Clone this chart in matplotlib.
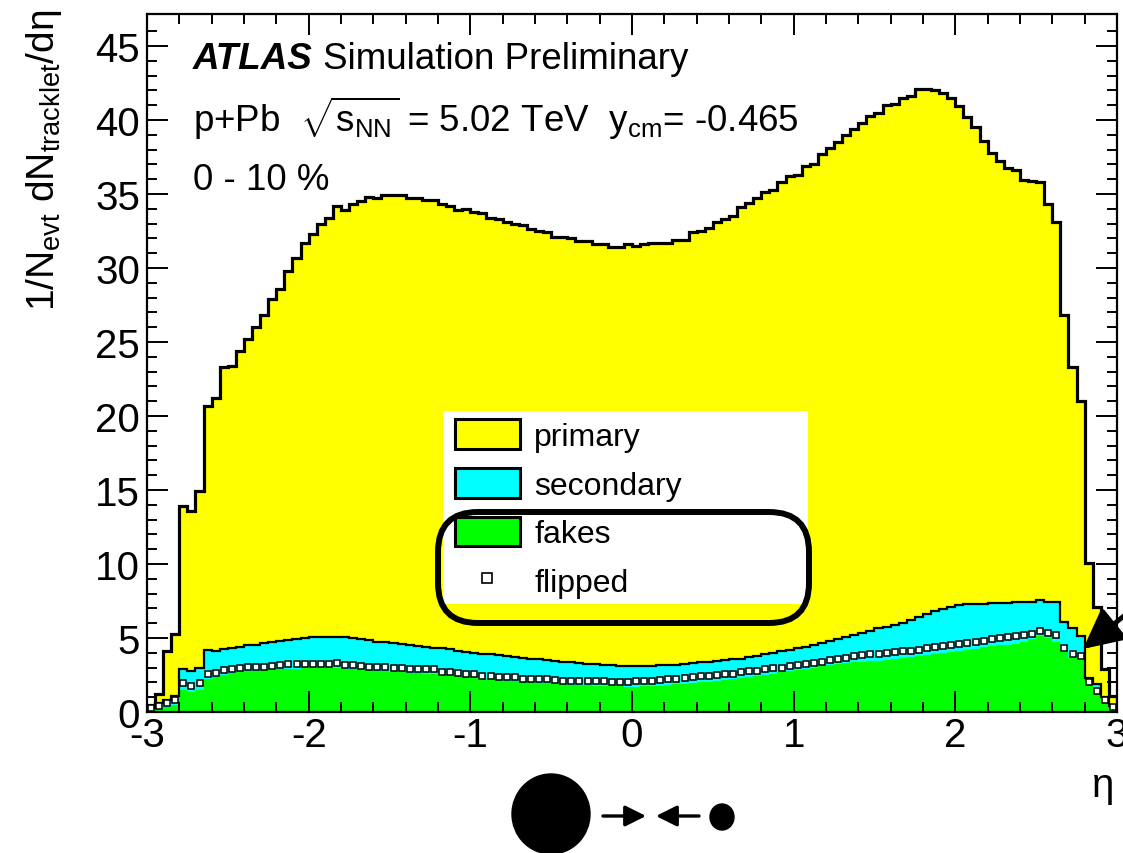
import numpy as np
import matplotlib.pyplot as plt
from matplotlib.patches import Patch, Rectangle, FancyBboxPatch, Ellipse
from matplotlib.lines import Line2D

plt.rcParams['font.family'] = ['Liberation Sans', 'DejaVu Sans']
plt.rcParams['mathtext.fontset'] = 'custom'
plt.rcParams['mathtext.rm'] = 'Liberation Sans'
plt.rcParams['mathtext.it'] = 'Liberation Sans:italic'
plt.rcParams['mathtext.bf'] = 'Liberation Sans:bold'
plt.rcParams['axes.unicode_minus'] = False

# 120 bins in eta from -3 to 3
eta_edges = np.linspace(-3, 3, 121)

# top of the stack: primary + secondary + fakes
total = [
    0.5, 1.2, 4.1, 5.3, 13.95, 13.6, 14.95, 20.7, 21.2, 23.3,
    23.4, 24.4, 25.2, 26.0, 26.8, 27.9, 28.6, 29.8, 30.7, 31.7,
    32.3, 33.0, 33.4, 34.2, 33.9, 34.3, 34.5, 34.8, 34.7, 34.9,
    34.9, 34.9, 34.7, 34.7, 34.6, 34.6, 34.3, 34.2, 33.9, 34.0,
    33.8, 33.7, 33.4, 33.3, 33.1, 33.0, 32.9, 32.6, 32.5, 32.4,
    32.1, 32.1, 32.0, 31.8, 31.8, 31.6, 31.6, 31.4, 31.4, 31.6,
    31.5, 31.6, 31.7, 31.7, 31.7, 31.9, 31.9, 32.4, 32.5, 32.7,
    33.1, 33.3, 33.5, 34.1, 34.4, 34.7, 35.1, 35.3, 35.8, 36.2,
    36.3, 36.9, 37.0, 37.7, 38.1, 38.5, 39.0, 39.4, 39.8, 40.25,
    40.5, 41.0, 41.1, 41.5, 41.65, 42.1, 42.1, 42.05, 41.85, 41.5,
    40.95, 40.2, 39.5, 38.55, 37.75, 37.2, 36.75, 36.6, 35.95, 35.85,
    35.8, 34.3, 33.1, 26.8, 23.3, 21.0, 10.1, 7.1, 2.9, 1.1,
]

# secondary + fakes
with_secondary = [
    0.3, 0.6, 0.8, 1.1, 2.9, 2.75, 2.95, 4.2, 4.1, 4.25,
    4.3, 4.4, 4.5, 4.55, 4.65, 4.75, 4.8, 4.85, 4.95, 5.0,
    5.05, 5.1, 5.05, 5.1, 5.05, 5.0, 4.9, 4.85, 4.75, 4.7,
    4.64, 4.6, 4.5, 4.45, 4.41, 4.35, 4.3, 4.23, 4.15, 4.05,
    4.0, 3.95, 3.9, 3.85, 3.75, 3.7, 3.65, 3.6, 3.55, 3.5,
    3.45, 3.4, 3.35, 3.3, 3.25, 3.22, 3.18, 3.15, 3.13, 3.12,
    3.11, 3.12, 3.13, 3.15, 3.18, 3.2, 3.25, 3.3, 3.35, 3.4,
    3.45, 3.5, 3.55, 3.6, 3.7, 3.8, 3.9, 4.0, 4.1, 4.2,
    4.3, 4.4, 4.5, 4.65, 4.8, 4.9, 5.05, 5.2, 5.35, 5.5,
    5.65, 5.75, 5.85, 6.0, 6.2, 6.45, 6.6, 6.8, 6.95, 7.1,
    7.2, 7.3, 7.3, 7.3, 7.35, 7.35, 7.35, 7.4, 7.4, 7.4,
    7.6, 7.4, 7.4, 6.1, 5.7, 5.15, 2.3, 1.9, 1.0, 0.4,
]

fakes = [
    0.1, 0.25, 0.32, 0.47, 1.49, 1.38, 1.5, 2.2, 2.39, 2.5,
    2.61, 2.7, 2.75, 2.8, 2.84, 2.86, 2.88, 2.9, 2.92, 2.95,
    2.95, 2.95, 2.95, 2.98, 2.9, 2.88, 2.85, 2.82, 2.8, 2.75,
    2.7, 2.68, 2.65, 2.62, 2.6, 2.55, 2.5, 2.45, 2.4, 2.35,
    2.3, 2.25, 2.2, 2.16, 2.12, 2.08, 2.04, 2.0, 1.96, 1.94,
    1.9, 1.87, 1.84, 1.82, 1.8, 1.78, 1.76, 1.74, 1.73, 1.72,
    1.72, 1.73, 1.75, 1.78, 1.82, 1.86, 1.9, 1.95, 2.0, 2.05,
    2.1, 2.15, 2.22, 2.3, 2.37, 2.44, 2.52, 2.6, 2.68, 2.76,
    2.84, 2.92, 3.0, 3.08, 3.16, 3.24, 3.3, 3.36, 3.4, 3.45,
    3.45, 3.5, 3.55, 3.62, 3.7, 3.78, 3.85, 3.92, 3.98, 4.05,
    4.12, 4.2, 4.28, 4.36, 4.44, 4.5, 4.56, 4.62, 4.75, 4.9,
    5.15, 5.0, 4.75, 4.05, 3.65, 3.5, 2.1, 1.4, 0.75, 0.3,
]

flipped = [
    0.3, 0.41, 0.59, 0.81, 1.94, 1.76, 1.94, 2.57, 2.66, 2.84,
    2.88, 2.95, 3.02, 3.06, 3.06, 3.11, 3.15, 3.22, 3.22, 3.27,
    3.27, 3.27, 3.25, 3.33, 3.18, 3.15, 3.11, 3.06, 3.04, 3.02,
    2.99, 2.95, 2.88, 2.88, 2.88, 2.88, 2.68, 2.68, 2.61, 2.57,
    2.57, 2.45, 2.43, 2.39, 2.34, 2.34, 2.25, 2.23, 2.2, 2.2,
    2.16, 2.12, 2.1, 2.12, 2.1, 2.09, 2.09, 2.0, 2.0, 2.02,
    2.09, 2.1, 2.12, 2.15, 2.2, 2.25, 2.3, 2.35, 2.4, 2.45,
    2.5, 2.55, 2.6, 2.7, 2.75, 2.8, 2.9, 2.95, 3.0, 3.1,
    3.15, 3.25, 3.3, 3.4, 3.5, 3.55, 3.65, 3.75, 3.85, 3.9,
    3.95, 4.0, 4.05, 4.1, 4.15, 4.22, 4.3, 4.38, 4.45, 4.52,
    4.6, 4.68, 4.75, 4.82, 4.9, 4.97, 5.05, 5.12, 5.2, 5.3,
    5.5, 5.35, 5.2, 4.3, 3.9, 3.8, 2.0, 1.45, 0.8, 0.35,
]

labels = ['primary', 'secondary', 'fakes', 'flipped']
colors = ['#ffff00', '#00ffff', '#00ff00']

W, H = 1123, 854


def fpos(x, y):
    return x / W, 1 - y / H


fig = plt.figure(figsize=(W / 100, H / 100), dpi=100)
ax = fig.add_axes([147 / W, 1 - 713 / H, (1117 - 147) / W, (713 - 15) / H])

ax.stairs(total, eta_edges, baseline=with_secondary, fill=True, color=colors[0], lw=0)
ax.stairs(with_secondary, eta_edges, baseline=fakes, fill=True, color=colors[1], lw=0)
ax.stairs(fakes, eta_edges, baseline=0, fill=True, color=colors[2], lw=0)
ax.stairs(with_secondary, eta_edges, baseline=None, color='black', lw=1.6)
ax.stairs(total, eta_edges, baseline=0, color='black', lw=2.3)

centers = 0.5 * (eta_edges[1:] + eta_edges[:-1])
ax.plot(centers, flipped, ls='none', marker='s', ms=4.8, mfc='white', mec='black', mew=1.1)

ax.set_xlim(-3, 3)
ax.set_ylim(0, 47.16)
ax.set_xticks(np.arange(-3, 4))
ax.set_xticklabels([str(v) for v in range(-3, 4)])
ax.set_xticks(np.arange(-3, 3.01, 0.2), minor=True)
ax.set_yticks(np.arange(0, 46, 5))
ax.set_yticks(np.arange(0, 47, 1), minor=True)
ax.set_axisbelow(False)
ax.tick_params(which='both', direction='in', top=True, right=True, width=1.4, labelsize=29)
ax.tick_params(which='major', length=15)
ax.tick_params(which='minor', length=7.5)
ax.tick_params(axis='x', pad=3)
ax.tick_params(axis='y', pad=5)
for sp in ax.spines.values():
    sp.set_linewidth(1.6)

fig.text(*fpos(44, 10), r'1/N$_{\mathregular{evt}}$ dN$_{\mathregular{tracklet}}$/dη',
         rotation=90, ha='center', va='top', fontsize=28)
fig.text(*fpos(1103, 786), 'η', ha='center', va='center', fontsize=29)

fig.text(*fpos(193, 69), 'ATLAS', fontsize=26.5, fontweight='bold', fontstyle='italic', va='baseline')
fig.text(*fpos(323, 69), 'Simulation Preliminary', fontsize=26.5, va='baseline')
fig.text(*fpos(193, 132),
         r'p+Pb  $\sqrt{\mathregular{s}_{\mathregular{NN}}}$ = 5.02 TeV  y$_{\mathregular{cm}}$= -0.465',
         fontsize=26.5, va='baseline')
fig.text(*fpos(193, 190), '0 - 10 %', fontsize=26.5, va='baseline')

# legend on a white panel drawn above the histograms
ax.add_patch(Rectangle(fpos(443, 605), 365 / W, 193 / H, transform=fig.transFigure,
                       facecolor='white', edgecolor='none', zorder=4, clip_on=False))
handles = [Patch(facecolor=c, edgecolor='black', lw=2.2) for c in colors]
handles.append(Line2D([], [], ls='none', marker='s', ms=7.5, mfc='white', mec='black', mew=1.2))
leg = ax.legend(handles, labels, loc='upper left', bbox_to_anchor=fpos(455, 420),
                bbox_transform=fig.transFigure, frameon=False, fontsize=23,
                handlelength=2.03, handleheight=1.06, handletextpad=0.45,
                labelspacing=0.5, borderpad=0, borderaxespad=0)
leg.set_zorder(6)

# overlay in pixel coordinates for the annotations
ov = fig.add_axes([0, 0, 1, 1], zorder=5)
ov.set_xlim(0, W)
ov.set_ylim(H, 0)
ov.set_facecolor('none')
ov.axis('off')

ov.add_patch(FancyBboxPatch((438, 513), 371, 111, boxstyle='round,pad=0,rounding_size=40',
                            fill=False, edgecolor='black', lw=4.3))
ov.annotate('', xy=(1083, 650), xytext=(1135, 608),
            arrowprops=dict(arrowstyle='-|>,head_length=1.5,head_width=0.75', lw=3.5,
                            color='black', shrinkA=0, shrinkB=0, mutation_scale=16))

# beam sketch: Pb nucleus and proton
ov.add_patch(Ellipse((551, 815), 78, 80, color='black'))
ov.add_patch(Ellipse((722, 818), 24, 26, color='black'))
ov.annotate('', xy=(646, 817), xytext=(603, 817),
            arrowprops=dict(arrowstyle='-|>,head_length=0.9,head_width=0.45', lw=2.4,
                            color='black', shrinkA=0, shrinkB=0, mutation_scale=14))
ov.annotate('', xy=(656, 817), xytext=(699, 817),
            arrowprops=dict(arrowstyle='-|>,head_length=0.9,head_width=0.45', lw=2.4,
                            color='black', shrinkA=0, shrinkB=0, mutation_scale=14))

fig.savefig('out.png', dpi=100)
